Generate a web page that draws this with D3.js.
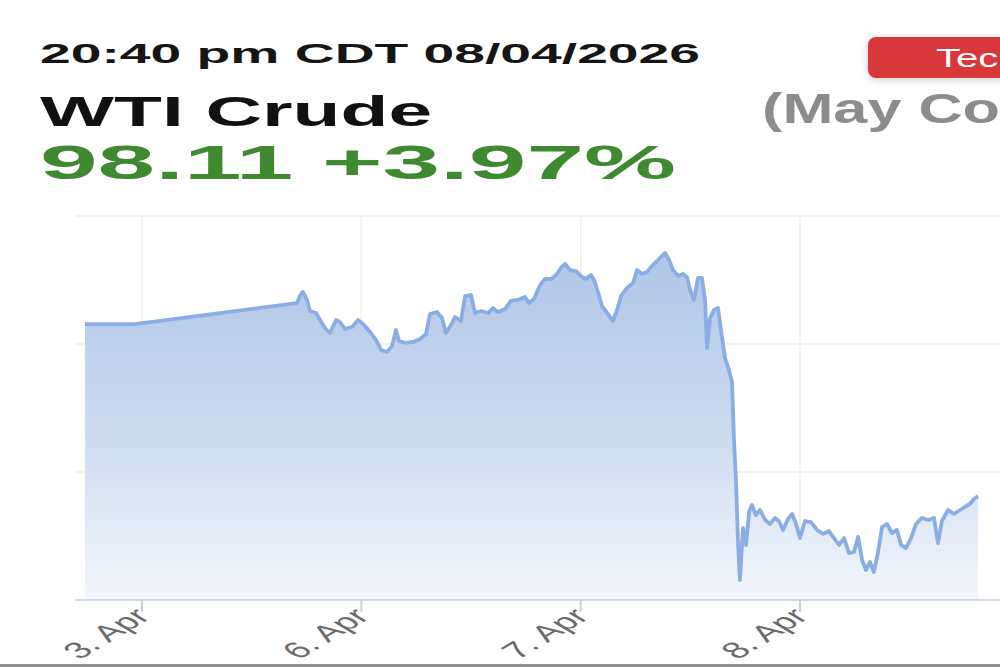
<!DOCTYPE html>
<html>
<head>
<meta charset="utf-8">
<style>
	body { margin: 0; background: #ffffff; }
	svg { display: block; font-family: 'Liberation Sans', Arial, sans-serif; }
</style>
</head>
<body>
<div id="chart"></div>
<script src="https://cdnjs.cloudflare.com/ajax/libs/d3/7.8.5/d3.min.js"></script>
<script>
'use strict';

// trading day index: 0 = 3 Apr, 1 = 6 Apr, 2 = 7 Apr, 3 = 8 Apr
var tickDays = [0, 1, 2, 3];
var tickLabels = ['3. Apr', '6. Apr', '7. Apr', '8. Apr'];
var priceGrid = [90, 100, 110, 120];

var days = [
	-0.260, -0.032, 0.707, 0.720, 0.734, 0.752, 0.766, 0.793, 0.812, 0.834,
	0.857, 0.885, 0.903, 0.926, 0.957, 0.985, 1.008, 1.040, 1.067, 1.090,
	1.117, 1.140, 1.158, 1.172, 1.204, 1.236, 1.268, 1.295, 1.313, 1.345,
	1.368, 1.386, 1.409, 1.427, 1.454, 1.473, 1.500, 1.518, 1.546, 1.578,
	1.600, 1.623, 1.655, 1.682, 1.714, 1.746, 1.765, 1.787, 1.815, 1.837,
	1.865, 1.888, 1.910, 1.929, 1.951, 1.979, 2.002, 2.024, 2.047, 2.061,
	2.079, 2.097, 2.125, 2.147, 2.166, 2.184, 2.211, 2.239, 2.257, 2.280,
	2.302, 2.325, 2.348, 2.371, 2.385, 2.403, 2.421, 2.444, 2.467, 2.485,
	2.499, 2.517, 2.535, 2.553, 2.567, 2.576, 2.590, 2.608, 2.626, 2.640,
	2.658, 2.676, 2.690, 2.699, 2.708, 2.717, 2.726, 2.740, 2.754, 2.768,
	2.781, 2.799, 2.818, 2.841, 2.863, 2.886, 2.904, 2.923, 2.945, 2.964,
	2.982, 3.000, 3.023, 3.050, 3.078, 3.105, 3.132, 3.155, 3.178, 3.201,
	3.223, 3.246, 3.265, 3.283, 3.301, 3.319, 3.337, 3.356, 3.374, 3.397,
	3.419, 3.442, 3.461, 3.483, 3.506, 3.529, 3.556, 3.584, 3.611, 3.629,
	3.647, 3.675, 3.702, 3.730, 3.752, 3.775, 3.793, 3.812
];

var prices = [
	111.56, 111.56, 113.20, 113.75, 114.06, 113.44, 112.58, 112.42, 111.88, 111.25,
	110.86, 111.88, 111.72, 111.17, 111.33, 111.88, 111.56, 110.94, 110.31, 109.53,
	109.38, 109.84, 111.09, 110.23, 110.08, 110.16, 110.39, 110.78, 112.34, 112.50,
	112.03, 110.86, 111.48, 112.11, 111.80, 113.75, 113.83, 112.42, 112.58, 112.42,
	112.81, 112.50, 112.73, 113.36, 113.44, 113.67, 113.20, 113.52, 114.61, 115.08,
	115.08, 115.39, 115.94, 116.25, 115.78, 115.70, 115.31, 115.08, 115.39, 115.00,
	114.06, 112.97, 112.34, 111.80, 112.66, 113.75, 114.38, 114.77, 115.78, 115.47,
	115.63, 116.09, 116.48, 116.88, 117.11, 116.56, 115.78, 115.31, 115.47, 115.23,
	114.22, 113.44, 115.16, 115.16, 113.44, 109.69, 112.03, 112.66, 112.81, 111.09,
	108.91, 107.97, 107.03, 102.50, 99.38, 94.69, 91.56, 95.63, 94.30, 96.88,
	97.42, 96.64, 97.03, 96.25, 95.94, 96.41, 96.17, 95.47, 96.33, 96.72,
	95.94, 94.84, 96.17, 96.09, 95.47, 95.16, 95.39, 94.84, 94.30, 94.84,
	93.67, 93.75, 94.92, 93.13, 92.34, 92.97, 92.19, 93.75, 95.70, 95.94,
	95.23, 95.47, 94.30, 94.06, 94.84, 95.94, 96.41, 96.25, 96.41, 94.45,
	96.17, 97.03, 96.72, 97.03, 97.27, 97.50, 97.89, 98.11
];

var width = 1000;
var height = 667;

var svg = d3.select('#chart').append('svg')
	.attr('width', width)
	.attr('height', height);

var defs = svg.append('defs');

var grad = defs.append('linearGradient')
	.attr('id', 'areaFill')
	.attr('gradientUnits', 'userSpaceOnUse')
	.attr('x1', 0).attr('y1', 216)
	.attr('x2', 0).attr('y2', 600);
grad.append('stop').attr('offset', '0%').attr('stop-color', '#a9c2e5');
grad.append('stop').attr('offset', '55%').attr('stop-color', '#cbdaef');
grad.append('stop').attr('offset', '100%').attr('stop-color', '#f3f7fc');

var shadow = defs.append('filter').attr('id', 'btnShadow')
	.attr('x', '-20%').attr('y', '-40%').attr('width', '140%').attr('height', '180%');
shadow.append('feDropShadow')
	.attr('dx', 0).attr('dy', 2).attr('stdDeviation', 4)
	.attr('flood-color', '#000000').attr('flood-opacity', 0.18);

// header
var stretchText = function(x, y, str, size, len, color) {
	return svg.append('text')
		.attr('x', x)
		.attr('y', y)
		.attr('font-size', size)
		.attr('font-weight', 'bold')
		.attr('fill', color)
		.attr('textLength', len)
		.attr('lengthAdjust', 'spacingAndGlyphs')
		.text(str);
}

stretchText(40, 63, '20:40 pm CDT 08/04/2026', 28, 660, '#151515');
stretchText(40, 126, 'WTI Crude', 42, 392, '#111111');
stretchText(40, 179, '98.11 +3.97%', 48, 636, '#3f8a30');

stretchText(762, 123, '(May Co', 42, 238, '#8c8c8c');

svg.append('rect')
	.attr('x', 868)
	.attr('y', 37)
	.attr('width', 160)
	.attr('height', 41)
	.attr('rx', 8)
	.attr('fill', '#d9393a')
	.attr('filter', 'url(#btnShadow)');

svg.append('text')
	.attr('transform', 'translate(936,67) scale(1.6,1)')
	.attr('font-size', 25)
	.attr('fill', '#ffffff')
	.text('Tec');

// chart
var xscale = d3.scaleLinear()
	.domain([0, 3])
	.range([142, 800]);

var yscale = d3.scaleLinear()
	.domain([90, 120])
	.range([600, 216]);

var x0 = 75;
var x1 = 1000;

var g = svg.append('g');

g.selectAll('.hgrid')
	.data(priceGrid.slice(1))
	.enter().append('line')
	.attr('class', 'hgrid')
	.attr('x1', x0)
	.attr('x2', x1)
	.attr('y1', function(d) { return yscale(d); })
	.attr('y2', function(d) { return yscale(d); })
	.attr('stroke', '#eeeeee')
	.attr('stroke-width', 1.5);

g.selectAll('.vgrid')
	.data(tickDays)
	.enter().append('line')
	.attr('class', 'vgrid')
	.attr('x1', function(d) { return xscale(d); })
	.attr('x2', function(d) { return xscale(d); })
	.attr('y1', yscale(120))
	.attr('y2', yscale(90))
	.attr('stroke', '#efefef')
	.attr('stroke-width', 1.5);

var data = days.map(function(d, i) {
	return {day: d, price: prices[i]};
});

var area = d3.area()
	.x(function(d) { return xscale(d.day); })
	.y0(yscale(90))
	.y1(function(d) { return yscale(d.price); });

var line = d3.line()
	.x(function(d) { return xscale(d.day); })
	.y(function(d) { return yscale(d.price); });

g.append('path')
	.datum(data)
	.attr('d', area)
	.attr('fill', 'url(#areaFill)');

g.append('path')
	.datum(data)
	.attr('d', line)
	.attr('fill', 'none')
	.attr('stroke', '#8badE5')
	.attr('stroke-width', 3.8)
	.attr('stroke-linejoin', 'round');

// x axis
var axis = g.append('g')
	.attr('transform', 'translate(0,' + yscale(90) + ')');

axis.append('line')
	.attr('x1', x0)
	.attr('x2', x1)
	.attr('stroke', '#d5dbe6')
	.attr('stroke-width', 2);

axis.selectAll('.tick')
	.data(tickDays)
	.enter().append('line')
	.attr('class', 'tick')
	.attr('x1', function(d) { return xscale(d); })
	.attr('x2', function(d) { return xscale(d); })
	.attr('y1', 0)
	.attr('y2', 12)
	.attr('stroke', '#cfcfcf')
	.attr('stroke-width', 2);

axis.selectAll('.label')
	.data(tickDays)
	.enter().append('text')
	.attr('class', 'label')
	.attr('transform', function(d) {
		return 'translate(' + xscale(d) + ',12) scale(1.7,1) rotate(-45)';
	})
	.attr('text-anchor', 'end')
	.attr('dy', '0.35em')
	.attr('font-size', 23)
	.attr('fill', '#6b6b6b')
	.text(function(d, i) { return tickLabels[i]; });

svg.append('rect')
	.attr('x', 0)
	.attr('y', 664)
	.attr('width', width)
	.attr('height', 3)
	.attr('fill', '#8f8f8f');
</script>
</body>
</html>
